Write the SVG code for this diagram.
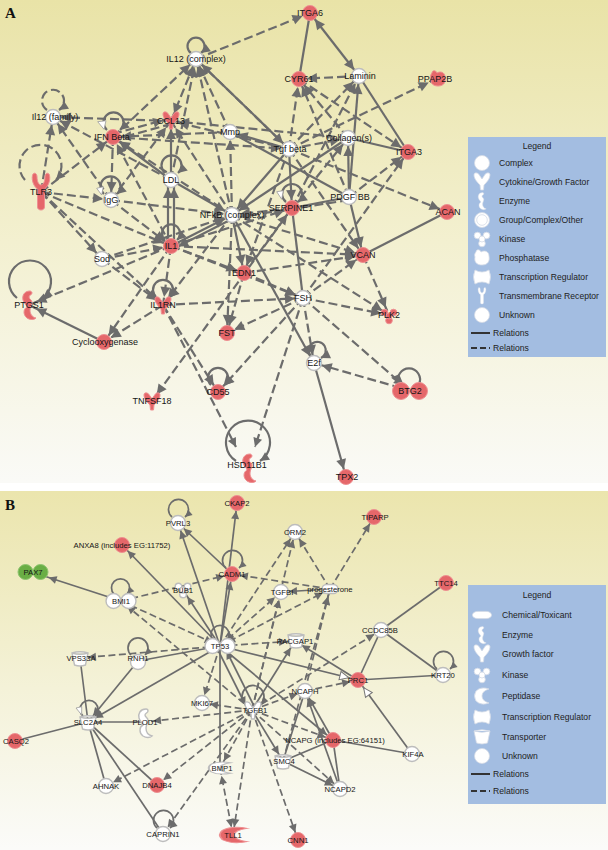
<svg xmlns="http://www.w3.org/2000/svg" width="608" height="850" viewBox="0 0 608 850">
<defs>
<style>
.s{fill:none;stroke:#6c6c6c;stroke-width:2.2}
.d{fill:none;stroke:#6c6c6c;stroke-width:2.2;stroke-dasharray:9 4}
.sb{fill:none;stroke:#6c6c6c;stroke-width:1.7}
.db{fill:none;stroke:#6c6c6c;stroke-width:1.7;stroke-dasharray:7 3.5}
.r{fill:#e5676a;stroke:#ee9092;stroke-width:1}
.w{fill:#ffffff;stroke:#bdbdbd;stroke-width:1.4}
.g{fill:#6aae45;stroke:#8ec46f;stroke-width:1}
.lw{fill:#ffffff;stroke:#d4dbe6;stroke-width:0.8}
.tri{fill:#ffffff;stroke:#9a9a9a;stroke-width:0.8}
.leg{fill:#a3bde1}
text{font-family:"Liberation Sans",Arial,sans-serif;fill:#151515}
.ta{font-size:9px;text-anchor:middle}
.tb{font-size:7.7px;text-anchor:middle}
.tl{font-size:8.6px;fill:#222}
.th{font-size:8.6px;fill:#222;text-anchor:middle}
.pl{font-family:"Liberation Serif","Times New Roman",serif;font-weight:bold;font-size:15px;fill:#111}
</style>
<linearGradient id="bgA" x1="0" y1="0" x2="0" y2="1">
<stop offset="0" stop-color="#e9e3a7"/><stop offset="0.5" stop-color="#f3f0d0"/><stop offset="1" stop-color="#fafaf7"/>
</linearGradient>
<linearGradient id="bgB" x1="0" y1="0" x2="0" y2="1">
<stop offset="0" stop-color="#ebe5ad"/><stop offset="0.55" stop-color="#f4f2d8"/><stop offset="1" stop-color="#fbfbf9"/>
</linearGradient>
<marker id="a" viewBox="0 0 10 10" refX="18" refY="5" markerWidth="10" markerHeight="10" markerUnits="userSpaceOnUse" orient="auto" overflow="visible"><path d="M0,0L10,5L0,10z" fill="#6c6c6c"/></marker>
<marker id="as" viewBox="0 0 10 10" refX="18" refY="5" markerWidth="10" markerHeight="10" markerUnits="userSpaceOnUse" orient="auto-start-reverse" overflow="visible"><path d="M0,0L10,5L0,10z" fill="#6c6c6c"/></marker>
<marker id="l" viewBox="0 0 10 10" refX="10" refY="5" markerWidth="9" markerHeight="9" markerUnits="userSpaceOnUse" orient="auto" overflow="visible"><path d="M0,0L10,5L0,10z" fill="#6c6c6c"/></marker>
<marker id="b" viewBox="0 0 10 10" refX="20" refY="5" markerWidth="8" markerHeight="8" markerUnits="userSpaceOnUse" orient="auto" overflow="visible"><path d="M0,0L10,5L0,10z" fill="#6c6c6c"/></marker>
<marker id="bs" viewBox="0 0 10 10" refX="20" refY="5" markerWidth="8" markerHeight="8" markerUnits="userSpaceOnUse" orient="auto-start-reverse" overflow="visible"><path d="M0,0L10,5L0,10z" fill="#6c6c6c"/></marker>
<marker id="bl" viewBox="0 0 10 10" refX="10" refY="5" markerWidth="7" markerHeight="7" markerUnits="userSpaceOnUse" orient="auto" overflow="visible"><path d="M0,0L10,5L0,10z" fill="#6c6c6c"/></marker>
<marker id="o" viewBox="0 0 10 10" refX="19" refY="5" markerWidth="10" markerHeight="10" markerUnits="userSpaceOnUse" orient="auto" overflow="visible"><path d="M0.5,0.8L9.5,5L0.5,9.2z" fill="#ffffff" stroke="#777" stroke-width="1"/></marker>
<circle id="c" r="7.5"/>
<g id="dcA"><circle cx="-9" r="8.5"/><circle cx="9" r="8.5"/></g>
<g id="dcB"><circle cx="-7.5" r="7.5"/><circle cx="7.5" r="7.5"/></g>
<path id="cy" d="M-8,-7 C-8,-10 -4,-10 -2,-6 L0,-3 L2,-6 C4,-10 8,-10 8,-7 C8,-3 4,1 2,3 L1.5,8 L-1.5,8 L-2,3 C-4,1 -8,-3 -8,-7 Z"/>
<path id="tm" d="M-8,-18 C-6,-20 -4,-18 -4,-15 C-4,-10 -2,-7 0,-7 C2,-7 4,-10 4,-15 C4,-18 6,-20 8,-18 C10,-14 8,-6 3.5,-3 L3.5,15 C3.5,19 -3.5,19 -3.5,15 L-3.5,-3 C-8,-6 -10,-14 -8,-18 Z"/>
<path id="en" d="M1,-14 C-5,-14 -7,-9 -6,-5 C-5,-1 -2,0 -2,2 C-6,4 -6,10 -2,13 C1,15 5,15 7,13 C3,12 1,9 1,5 C1,2 3,0 3,-3 C3,-5 0,-6 0,-8 C0,-10 3,-10 3,-12 C3,-13 2,-14 1,-14 Z"/>
<g id="ki"><circle cx="-4.5" cy="-3.5" r="3.3"/><circle cx="4.5" cy="-3.5" r="3.3"/><circle cx="0" cy="4.5" r="3.3"/><circle r="3"/></g>
<path id="ph" d="M-6,-6 C-6,-9 -2,-9 -1,-6 C2,-8 7,-7 7,-2 C8,3 6,7 0,7 C-6,7 -8,3 -7,-1 C-8,-3 -7,-5 -6,-6 Z"/>
<path id="tr" d="M-7,-7 Q0,-3 7,-7 Q10,0 7,7 Q0,3 -7,7 Q-10,0 -7,-7 Z"/>
<path id="tp" d="M-8,-6 Q0,-8.5 8,-6 L5.5,6 Q0,8 -5.5,6 Z M-8,-6 Q0,-3.5 8,-6"/>
<rect id="ch" x="-8" y="-4.5" width="16" height="9" rx="4.5"/>
<path id="pe" d="M7,-7 Q-1,-10 -6,-5 Q-9,0 -6,5 Q-1,10 7,7 Q0,5 0,0 Q0,-5 7,-7 Z"/>
</defs>

<rect x="0" y="0" width="608" height="850" fill="#ffffff"/>
<rect x="0" y="0" width="608" height="483" fill="url(#bgA)"/>
<rect x="0" y="491" width="608" height="359" fill="url(#bgB)"/>
<text class="pl" x="5" y="18">A</text>
<text class="pl" x="5" y="510">B</text>

<g id="connectors-a">
<line class="s" x1="299" y1="79" x2="310" y2="13"/>
<line class="s" x1="359" y1="76" x2="310" y2="13" marker-end="url(#a)" marker-start="url(#as)"/>
<line class="s" x1="359" y1="76" x2="408" y2="152"/>
<line class="s" x1="348" y1="138" x2="408" y2="152"/>
<line class="s" x1="196" y1="59" x2="289" y2="149" marker-end="url(#a)"/>
<line class="s" x1="289" y1="149" x2="230" y2="132" marker-end="url(#a)"/>
<line class="s" x1="230" y1="132" x2="349" y2="197"/>
<line class="s" x1="349" y1="197" x2="359" y2="76" marker-end="url(#a)"/>
<line class="s" x1="349" y1="197" x2="348" y2="138" marker-end="url(#a)"/>
<line class="s" x1="289" y1="149" x2="292" y2="208" marker-end="url(#a)"/>
<line class="s" x1="292" y1="208" x2="303" y2="298"/>
<line class="s" x1="349" y1="197" x2="292" y2="208"/>
<line class="s" x1="349" y1="197" x2="363" y2="255" marker-end="url(#a)"/>
<line class="s" x1="168" y1="246" x2="168" y2="180" marker-end="url(#a)"/>
<line class="s" x1="174" y1="246" x2="174" y2="180" marker-end="url(#a)"/>
<line class="s" x1="171" y1="180" x2="171" y2="121" marker-end="url(#a)"/>
<line class="s" x1="171" y1="180" x2="113" y2="137" marker-end="url(#a)"/>
<line class="s" x1="171" y1="180" x2="232" y2="215" marker-end="url(#a)"/>
<line class="s" x1="171" y1="246" x2="232" y2="215" marker-end="url(#a)"/>
<line class="s" x1="232" y1="219" x2="171" y2="250" marker-end="url(#a)"/>
<line class="s" x1="232" y1="215" x2="244" y2="273" marker-end="url(#a)"/>
<line class="s" x1="232" y1="215" x2="314" y2="363" marker-end="url(#a)"/>
<line class="s" x1="447" y1="212" x2="363" y2="255"/>
<line class="s" x1="104" y1="342" x2="29" y2="305" marker-end="url(#a)"/>
<line class="s" x1="314" y1="363" x2="346" y2="477" marker-end="url(#a)"/>
<line class="s" x1="348" y1="138" x2="232" y2="215" marker-end="url(#a)"/>
<line class="s" x1="289" y1="149" x2="232" y2="215" marker-end="url(#a)"/>
<line class="d" x1="196" y1="59" x2="310" y2="13" marker-end="url(#a)"/>
<line class="d" x1="113" y1="137" x2="196" y2="59" marker-end="url(#a)"/>
<line class="d" x1="171" y1="121" x2="196" y2="59" marker-end="url(#a)" marker-start="url(#as)"/>
<line class="d" x1="171" y1="180" x2="196" y2="59" marker-end="url(#a)"/>
<line class="d" x1="232" y1="215" x2="196" y2="59" marker-end="url(#a)"/>
<line class="d" x1="289" y1="149" x2="196" y2="59" marker-end="url(#a)"/>
<line class="d" x1="230" y1="132" x2="196" y2="59" marker-end="url(#a)"/>
<line class="d" x1="41" y1="192" x2="53" y2="117" marker-end="url(#a)"/>
<line class="d" x1="41" y1="192" x2="113" y2="137" marker-end="url(#a)"/>
<line class="d" x1="41" y1="192" x2="111" y2="200" marker-end="url(#a)"/>
<line class="d" x1="41" y1="192" x2="171" y2="246" marker-end="url(#a)"/>
<line class="d" x1="41" y1="192" x2="102" y2="259" marker-end="url(#a)"/>
<line class="d" x1="41" y1="192" x2="163" y2="305" marker-end="url(#a)"/>
<line class="d" x1="171" y1="121" x2="53" y2="117" marker-end="url(#a)"/>
<line class="d" x1="111" y1="200" x2="53" y2="117" marker-end="url(#a)"/>
<line class="d" x1="171" y1="180" x2="53" y2="117" marker-end="url(#a)"/>
<line class="d" x1="113" y1="137" x2="111" y2="200" marker-end="url(#a)"/>
<line class="d" x1="113" y1="134" x2="171" y2="118" marker-end="url(#a)"/>
<line class="d" x1="113" y1="140" x2="171" y2="124"/>
<line class="d" x1="230" y1="132" x2="113" y2="137" marker-end="url(#a)"/>
<line class="d" x1="113" y1="137" x2="289" y2="149" marker-end="url(#a)"/>
<line class="d" x1="232" y1="215" x2="113" y2="137" marker-end="url(#a)"/>
<line class="d" x1="171" y1="246" x2="113" y2="137" marker-end="url(#a)"/>
<line class="d" x1="289" y1="149" x2="171" y2="121" marker-end="url(#a)"/>
<line class="d" x1="232" y1="215" x2="171" y2="121" marker-end="url(#a)"/>
<line class="d" x1="111" y1="200" x2="171" y2="121" marker-end="url(#a)"/>
<line class="d" x1="348" y1="138" x2="171" y2="121" marker-end="url(#a)"/>
<line class="d" x1="289" y1="149" x2="299" y2="79" marker-end="url(#a)"/>
<line class="d" x1="289" y1="149" x2="359" y2="76" marker-end="url(#a)"/>
<line class="d" x1="289" y1="149" x2="436" y2="79" marker-end="url(#a)"/>
<line class="d" x1="359" y1="76" x2="299" y2="79" marker-end="url(#a)"/>
<line class="d" x1="299" y1="79" x2="408" y2="152" marker-end="url(#a)"/>
<line class="d" x1="348" y1="138" x2="299" y2="79" marker-end="url(#a)"/>
<line class="d" x1="349" y1="197" x2="299" y2="79" marker-end="url(#a)"/>
<line class="d" x1="349" y1="197" x2="408" y2="152" marker-end="url(#a)"/>
<line class="d" x1="289" y1="149" x2="447" y2="212" marker-end="url(#a)"/>
<line class="d" x1="289" y1="149" x2="348" y2="138" marker-end="url(#a)"/>
<line class="d" x1="292" y1="208" x2="359" y2="76" marker-end="url(#a)"/>
<line class="d" x1="292" y1="208" x2="348" y2="138" marker-end="url(#a)"/>
<line class="d" x1="289" y1="149" x2="363" y2="255" marker-end="url(#a)"/>
<line class="d" x1="232" y1="215" x2="230" y2="132" marker-end="url(#a)"/>
<line class="d" x1="292" y1="208" x2="232" y2="215" marker-end="url(#a)"/>
<line class="d" x1="349" y1="200" x2="232" y2="218" marker-end="url(#a)"/>
<line class="d" x1="111" y1="200" x2="232" y2="215" marker-end="url(#a)"/>
<line class="d" x1="111" y1="200" x2="171" y2="246" marker-end="url(#a)"/>
<line class="d" x1="102" y1="259" x2="232" y2="215" marker-end="url(#a)"/>
<line class="d" x1="102" y1="259" x2="171" y2="246" marker-end="url(#a)"/>
<line class="d" x1="102" y1="259" x2="163" y2="305" marker-end="url(#a)"/>
<line class="d" x1="171" y1="246" x2="29" y2="305" marker-end="url(#a)"/>
<line class="d" x1="171" y1="246" x2="104" y2="342" marker-end="url(#a)"/>
<line class="d" x1="163" y1="305" x2="104" y2="342" marker-end="url(#a)"/>
<line class="d" x1="171" y1="246" x2="163" y2="305" marker-end="url(#a)"/>
<line class="d" x1="232" y1="215" x2="163" y2="305" marker-end="url(#a)"/>
<line class="d" x1="171" y1="246" x2="292" y2="208" marker-end="url(#a)"/>
<line class="d" x1="171" y1="246" x2="363" y2="255" marker-end="url(#a)"/>
<line class="d" x1="171" y1="246" x2="303" y2="298" marker-end="url(#a)"/>
<line class="d" x1="171" y1="246" x2="244" y2="273" marker-end="url(#a)"/>
<line class="d" x1="232" y1="215" x2="227" y2="333" marker-end="url(#a)"/>
<line class="d" x1="244" y1="273" x2="227" y2="333" marker-end="url(#a)"/>
<line class="d" x1="303" y1="298" x2="227" y2="333" marker-end="url(#a)"/>
<line class="d" x1="303" y1="298" x2="218" y2="392" marker-end="url(#a)"/>
<line class="d" x1="163" y1="305" x2="218" y2="392" marker-end="url(#a)"/>
<line class="d" x1="303" y1="298" x2="255" y2="447" marker-end="url(#l)"/>
<line class="d" x1="163" y1="305" x2="236" y2="447" marker-end="url(#l)"/>
<line class="d" x1="292" y1="208" x2="152" y2="401" marker-end="url(#a)"/>
<line class="d" x1="303" y1="298" x2="389" y2="315" marker-end="url(#a)"/>
<line class="d" x1="232" y1="215" x2="389" y2="315" marker-end="url(#a)"/>
<line class="d" x1="363" y1="255" x2="389" y2="315" marker-end="url(#a)"/>
<line class="d" x1="303" y1="298" x2="314" y2="363" marker-end="url(#a)"/>
<line class="d" x1="303" y1="298" x2="410" y2="391" marker-end="url(#a)"/>
<line class="d" x1="401" y1="388" x2="314" y2="363" marker-end="url(#a)"/>
<line class="d" x1="303" y1="298" x2="363" y2="255" marker-end="url(#a)"/>
<line class="d" x1="244" y1="273" x2="363" y2="255" marker-end="url(#a)"/>
<line class="d" x1="232" y1="215" x2="363" y2="255" marker-end="url(#a)"/>
<line class="d" x1="244" y1="273" x2="303" y2="298" marker-end="url(#a)"/>
<line class="d" x1="244" y1="273" x2="292" y2="208" marker-end="url(#a)"/>
<line class="d" x1="163" y1="305" x2="303" y2="298" marker-end="url(#a)"/>
<line class="d" x1="303" y1="298" x2="408" y2="152" marker-end="url(#a)"/>
<line class="d" x1="289" y1="149" x2="244" y2="273" marker-end="url(#a)"/>
<path class="s" d="M191,53 A8.5,8.5 0 1 1 201,53" marker-end="url(#l)"/>
<path class="d" d="M47,110 A11,11 0 1 1 59,110" marker-end="url(#l)"/>
<path class="s" d="M107,130 A10,10 0 1 1 120,130" marker-end="url(#l)"/>
<path class="s" d="M165,173 A10,10 0 1 1 178,173" marker-end="url(#l)"/>
<path class="s" d="M104,194 A10,10 0 1 1 117,194" marker-end="url(#l)"/>
<path class="s" d="M165,240 A9,9 0 1 1 177,240" marker-end="url(#l)"/>
<path class="s" d="M286,202 A10,10 0 1 1 298,202" marker-end="url(#l)"/>
<path class="s" d="M156,297 A10,10 0 1 1 170,297" marker-end="url(#l)"/>
<path class="s" d="M211,385 A10,10 0 1 1 225,385" marker-end="url(#l)"/>
<path class="s" d="M311,356 A8.5,8.5 0 1 1 321,358" marker-end="url(#l)"/>
<path class="s" d="M419,384 A11,11 0 1 0 399,384" marker-end="url(#l)"/>
<path class="s" d="M17,298 A21,21 0 1 1 43,298" marker-end="url(#l)"/>
<path class="d" d="M25,180 A21,21 0 1 1 56,180" marker-end="url(#l)"/>
<path class="s" d="M236,461 A22,22 0 1 1 260,461" marker-end="url(#l)"/>
<polygon class="tri" points="97.7,121.7 106,120.7 104,129.3"/>
<polygon class="tri" points="96.7,188.3 103.3,186.7 101.7,195"/>
<polygon class="tri" points="276.7,191.7 283.3,190.7 281.7,199.3"/>
</g>

<g id="n-itga6"><use href="#c" x="310" y="13" class="r"/><text class="ta" x="310" y="16">ITGA6</text></g>
<g id="n-il12c"><use href="#c" x="196" y="59" class="w"/><text class="ta" x="196" y="62">IL12 (complex)</text></g>
<g id="n-cyr61"><use href="#c" x="299" y="79" class="r"/><text class="ta" x="299" y="82">CYR61</text></g>
<g id="n-laminin"><use href="#c" x="359" y="76" class="w"/><text class="ta" x="360" y="79">Laminin</text></g>
<g id="n-ppap2b"><use href="#ph" x="438" y="79" class="r"/><text class="ta" x="435" y="82">PPAP2B</text></g>
<g id="n-il12f"><use href="#c" x="53" y="117" class="w"/><text class="ta" x="55" y="120">Il12 (family)</text></g>
<g id="n-ifnb"><use href="#c" x="113" y="137" class="r"/><text class="ta" x="112" y="140">IFN Beta</text></g>
<g id="n-ccl13"><use href="#cy" x="171" y="121" class="r"/><text class="ta" x="171" y="124">CCL13</text></g>
<g id="n-mmp"><use href="#c" x="230" y="132" class="w"/><text class="ta" x="230" y="135">Mmp</text></g>
<g id="n-tgfb"><use href="#c" x="289" y="149" class="w"/><text class="ta" x="290" y="152">Tgf beta</text></g>
<g id="n-coll"><use href="#c" x="348" y="138" class="w"/><text class="ta" x="349" y="141">Collagen(s)</text></g>
<g id="n-itga3"><use href="#c" x="408" y="152" class="r"/><text class="ta" x="409" y="155">ITGA3</text></g>
<g id="n-ldl"><use href="#c" x="171" y="180" class="w"/><text class="ta" x="171" y="183">LDL</text></g>
<g id="n-igg"><use href="#c" x="111" y="200" class="w"/><text class="ta" x="111" y="203">IgG</text></g>
<g id="n-tlr3"><use href="#tm" x="41" y="192" class="r"/><text class="ta" x="41" y="195">TLR3</text></g>
<g id="n-nfkb"><use href="#c" x="232" y="215" class="w"/><text class="ta" x="232" y="218">NFkB (complex)</text></g>
<g id="n-serpine1"><use href="#c" x="292" y="208" class="r"/><text class="ta" x="291" y="211">SERPINE1</text></g>
<g id="n-pdgf"><use href="#c" x="349" y="197" class="w"/><text class="ta" x="350" y="200">PDGF BB</text></g>
<g id="n-acan"><use href="#c" x="447" y="212" class="r"/><text class="ta" x="448" y="215">ACAN</text></g>
<g id="n-il1"><use href="#c" x="171" y="246" class="r"/><text class="ta" x="171" y="249">IL1</text></g>
<g id="n-sod"><use href="#c" x="102" y="259" class="w"/><text class="ta" x="102" y="262">Sod</text></g>
<g id="n-edn1"><use href="#c" x="244" y="273" class="r"/><text class="ta" x="244" y="276">EDN1</text></g>
<g id="n-vcan"><use href="#c" x="363" y="255" class="r"/><text class="ta" x="363" y="258">VCAN</text></g>
<g id="n-fsh"><use href="#c" x="303" y="298" class="w"/><text class="ta" x="303" y="301">FSH</text></g>
<g id="n-il1rn"><use href="#cy" x="163" y="306" class="r"/><text class="ta" x="163" y="308">IL1RN</text></g>
<g id="n-ptgs1"><use href="#en" x="29" y="305" class="r"/><text class="ta" x="29" y="308">PTGS1</text></g>
<g id="n-plk2"><use href="#ki" x="389" y="316" class="r"/><text class="ta" x="389" y="318">PLK2</text></g>
<g id="n-fst"><use href="#c" x="227" y="333" class="r"/><text class="ta" x="227" y="336">FST</text></g>
<g id="n-cyclo"><use href="#c" x="104" y="342" class="r"/><text class="ta" x="105" y="345">Cyclooxygenase</text></g>
<g id="n-e2f"><use href="#c" x="314" y="363" class="w"/><text class="ta" x="314" y="366">E2f</text></g>
<g id="n-cd55"><use href="#c" x="218" y="392" class="r"/><text class="ta" x="218" y="395">CD55</text></g>
<g id="n-btg2"><use href="#dcA" x="410" y="391" class="r"/><text class="ta" x="410" y="394">BTG2</text></g>
<g id="n-tnfsf18"><use href="#cy" x="152" y="402" class="r"/><text class="ta" x="152" y="404">TNFSF18</text></g>
<g id="n-hsd11b1"><use href="#en" x="249" y="468" class="r"/><text class="ta" x="247" y="468">HSD11B1</text></g>
<g id="n-tpx2"><use href="#c" x="346" y="477" class="r"/><text class="ta" x="347" y="480">TPX2</text></g>

<g id="legend-a">
<rect class="leg" x="468" y="137" width="138" height="220"/>
<text class="th" x="537" y="149">Legend</text>
<use href="#c" x="482" y="163" class="lw"/><text class="tl" x="499" y="166">Complex</text>
<use href="#cy" x="482" y="182" class="lw"/><text class="tl" x="499" y="185">Cytokine/Growth Factor</text>
<g transform="translate(482,201) scale(0.6)"><use href="#en" class="lw"/></g><text class="tl" x="499" y="204">Enzyme</text>
<circle cx="482" cy="220" r="7.5" class="lw"/><circle cx="482" cy="220" r="5.3" class="lw"/><text class="tl" x="499" y="223">Group/Complex/Other</text>
<use href="#ki" x="482" y="239" class="lw"/><text class="tl" x="499" y="242">Kinase</text>
<use href="#ph" x="482" y="258" class="lw"/><text class="tl" x="499" y="261">Phosphatase</text>
<use href="#tr" x="482" y="277" class="lw"/><text class="tl" x="499" y="280">Transcription Regulator</text>
<g transform="translate(482,296) scale(0.45)"><use href="#tm" class="lw"/></g><text class="tl" x="499" y="299">Transmembrane Receptor</text>
<use href="#c" x="482" y="315" class="lw"/><text class="tl" x="499" y="318">Unknown</text>
<line x1="471" y1="333" x2="490" y2="333" stroke="#333" stroke-width="2"/><text class="tl" x="493" y="336">Relations</text>
<line x1="471" y1="348" x2="490" y2="348" stroke="#333" stroke-width="2" stroke-dasharray="6 3"/><text class="tl" x="493" y="351">Relations</text>
</g>

<g id="connectors-b">
<line class="sb" x1="220" y1="646" x2="237" y2="503" marker-end="url(#b)"/>
<line class="sb" x1="220" y1="646" x2="178" y2="523" marker-end="url(#b)"/>
<line class="sb" x1="220" y1="646" x2="122" y2="545" marker-end="url(#b)"/>
<line class="sb" x1="121" y1="601" x2="41" y2="575" marker-end="url(#b)"/>
<line class="sb" x1="232" y1="574" x2="178" y2="523" marker-end="url(#b)"/>
<line class="sb" x1="220" y1="646" x2="183" y2="590" marker-end="url(#b)"/>
<line class="sb" x1="220" y1="646" x2="232" y2="574" marker-end="url(#b)"/>
<line class="sb" x1="330" y1="589" x2="281" y2="592" marker-end="url(#b)"/>
<line class="sb" x1="446" y1="583" x2="381" y2="630"/>
<line class="sb" x1="381" y1="630" x2="443" y2="675"/>
<line class="sb" x1="381" y1="630" x2="358" y2="680"/>
<line class="sb" x1="358" y1="680" x2="295" y2="641" marker-end="url(#b)"/>
<line class="sb" x1="220" y1="646" x2="358" y2="680" marker-end="url(#o)"/>
<line class="sb" x1="443" y1="675" x2="358" y2="680"/>
<line class="sb" x1="412" y1="754" x2="358" y2="680" marker-end="url(#o)"/>
<line class="sb" x1="220" y1="646" x2="138" y2="661"/>
<line class="sb" x1="138" y1="661" x2="88" y2="722" marker-end="url(#b)"/>
<line class="sb" x1="220" y1="646" x2="88" y2="722" marker-end="url(#b)"/>
<line class="sb" x1="80" y1="658" x2="88" y2="722"/>
<line class="sb" x1="145" y1="722" x2="88" y2="722"/>
<line class="sb" x1="15" y1="741" x2="88" y2="722"/>
<line class="sb" x1="88" y1="722" x2="106" y2="786"/>
<line class="sb" x1="88" y1="722" x2="157" y2="785"/>
<line class="sb" x1="88" y1="722" x2="163" y2="834"/>
<line class="sb" x1="217" y1="648" x2="249" y2="712" marker-end="url(#b)"/>
<line class="sb" x1="255" y1="708" x2="223" y2="644" marker-end="url(#b)"/>
<line class="sb" x1="220" y1="646" x2="220" y2="768"/>
<line class="sb" x1="252" y1="710" x2="283" y2="761" marker-end="url(#b)"/>
<line class="sb" x1="252" y1="710" x2="295" y2="641" marker-end="url(#b)"/>
<line class="sb" x1="220" y1="646" x2="333" y2="740" marker-end="url(#b)"/>
<line class="sb" x1="283" y1="761" x2="305" y2="691"/>
<line class="sb" x1="283" y1="761" x2="333" y2="740"/>
<line class="sb" x1="283" y1="761" x2="340" y2="789" marker-end="url(#b)"/>
<line class="sb" x1="340" y1="789" x2="305" y2="691" marker-end="url(#b)"/>
<line class="sb" x1="333" y1="740" x2="305" y2="691" marker-end="url(#b)"/>
<line class="sb" x1="333" y1="740" x2="340" y2="789"/>
<line class="sb" x1="333" y1="740" x2="412" y2="754"/>
<line class="db" x1="121" y1="601" x2="220" y2="646" marker-end="url(#b)"/>
<line class="db" x1="252" y1="710" x2="121" y2="601" marker-end="url(#b)"/>
<line class="db" x1="121" y1="601" x2="232" y2="574" marker-end="url(#b)"/>
<line class="db" x1="330" y1="589" x2="232" y2="574" marker-end="url(#b)"/>
<line class="db" x1="330" y1="589" x2="295" y2="532" marker-end="url(#b)"/>
<line class="db" x1="330" y1="589" x2="374" y2="517" marker-end="url(#b)"/>
<line class="db" x1="220" y1="646" x2="295" y2="532" marker-end="url(#b)"/>
<line class="db" x1="220" y1="646" x2="281" y2="592" marker-end="url(#b)"/>
<line class="db" x1="252" y1="710" x2="281" y2="592" marker-end="url(#b)"/>
<line class="db" x1="220" y1="646" x2="330" y2="589" marker-end="url(#b)" marker-start="url(#bs)"/>
<line class="db" x1="305" y1="691" x2="330" y2="589" marker-end="url(#b)"/>
<line class="db" x1="283" y1="761" x2="330" y2="589" marker-end="url(#b)"/>
<line class="db" x1="220" y1="646" x2="295" y2="641" marker-end="url(#b)"/>
<line class="db" x1="252" y1="710" x2="381" y2="630" marker-end="url(#b)"/>
<line class="db" x1="305" y1="691" x2="358" y2="680" marker-end="url(#b)"/>
<line class="db" x1="220" y1="646" x2="80" y2="658" marker-end="url(#b)"/>
<line class="db" x1="220" y1="646" x2="202" y2="703" marker-end="url(#b)"/>
<line class="db" x1="252" y1="710" x2="202" y2="703" marker-end="url(#b)"/>
<line class="db" x1="252" y1="710" x2="145" y2="722" marker-end="url(#b)"/>
<line class="db" x1="252" y1="710" x2="106" y2="786" marker-end="url(#b)"/>
<line class="db" x1="252" y1="710" x2="157" y2="785" marker-end="url(#b)"/>
<line class="db" x1="252" y1="710" x2="163" y2="834" marker-end="url(#b)"/>
<line class="db" x1="252" y1="710" x2="220" y2="768" marker-end="url(#b)"/>
<line class="db" x1="220" y1="768" x2="233" y2="835" marker-end="url(#b)" marker-start="url(#bs)"/>
<line class="db" x1="252" y1="710" x2="233" y2="835" marker-end="url(#b)"/>
<line class="db" x1="252" y1="710" x2="298" y2="840" marker-end="url(#b)"/>
<line class="db" x1="252" y1="710" x2="305" y2="691" marker-end="url(#b)"/>
<line class="db" x1="252" y1="710" x2="333" y2="740" marker-end="url(#b)"/>
<line class="db" x1="252" y1="710" x2="340" y2="789" marker-end="url(#b)"/>
<line class="db" x1="252" y1="710" x2="295" y2="532" marker-end="url(#b)"/>
<path class="sb" d="M172,517 A10,10 0 1 1 185,517" marker-end="url(#bl)"/>
<path class="sb" d="M226,568 A10,10 0 1 1 239,568" marker-end="url(#bl)"/>
<path class="sb" d="M114,594 A9,9 0 1 1 127,594" marker-end="url(#bl)"/>
<path class="sb" d="M213,640 A9,9 0 1 1 227,640" marker-end="url(#bl)"/>
<path class="sb" d="M131,655 A10,10 0 1 1 145,655" marker-end="url(#bl)"/>
<path class="sb" d="M83,716 A9,9 0 1 1 95,716" marker-end="url(#bl)"/>
<path class="sb" d="M245,704 A11,11 0 1 1 261,704" marker-end="url(#bl)"/>
<path class="sb" d="M437,669 A10,10 0 1 1 450,669" marker-end="url(#bl)"/>
<path class="sb" d="M157,828 A10,10 0 1 1 170,828" marker-end="url(#bl)"/>
<polygon class="tri" points="76,708 81.7,706.7 81.7,715"/>
</g>

<g id="n-ckap2"><use href="#c" x="237" y="503" class="r"/><text class="tb" x="237" y="506">CKAP2</text></g>
<g id="n-tiparp"><use href="#c" x="374" y="517" class="r"/><text class="tb" x="375" y="520">TIPARP</text></g>
<g id="n-pvrl3"><use href="#c" x="178" y="523" class="w"/><text class="tb" x="178" y="526">PVRL3</text></g>
<g id="n-orm2"><use href="#c" x="295" y="532" class="w"/><text class="tb" x="295" y="535">ORM2</text></g>
<g id="n-anxa8"><use href="#c" x="122" y="545" class="r"/><text class="tb" x="122" y="548">ANXA8 (includes EG:11752)</text></g>
<g id="n-cadm1"><use href="#c" x="232" y="574" class="r"/><text class="tb" x="232" y="577">CADM1</text></g>
<g id="n-pax7"><use href="#dcB" x="33" y="572" class="g"/><text class="tb" x="33" y="575">PAX7</text></g>
<g id="n-ttc14"><use href="#c" x="446" y="583" class="r"/><text class="tb" x="446" y="586">TTC14</text></g>
<g id="n-bmi1"><use href="#dcB" x="121" y="601" class="w"/><text class="tb" x="121" y="604">BMI1</text></g>
<g id="n-bub1"><use href="#ki" x="183" y="590" class="w"/><text class="tb" x="183" y="593">BUB1</text></g>
<g id="n-tgfbi"><use href="#c" x="281" y="592" class="w"/><text class="tb" x="282" y="595">TGFBI</text></g>
<g id="n-prog"><use href="#ch" x="330" y="589" class="w"/><text class="tb" x="330" y="592">progesterone</text></g>
<g id="n-ccdc85b"><use href="#c" x="381" y="630" class="w"/><text class="tb" x="380" y="633">CCDC85B</text></g>
<g id="n-tp53"><use href="#dcB" x="220" y="646" class="w"/><text class="tb" x="220" y="649">TP53</text></g>
<g id="n-racgap1"><use href="#tp" x="296" y="641" class="w"/><text class="tb" x="295" y="644">RACGAP1</text></g>
<g id="n-vps33a"><use href="#tp" x="80" y="659" class="w"/><text class="tb" x="81" y="661">VPS33A</text></g>
<g id="n-rnh1"><use href="#c" x="138" y="662" class="w"/><text class="tb" x="138" y="661">RNH1</text></g>
<g id="n-prc1"><use href="#c" x="358" y="680" class="r"/><text class="tb" x="358" y="683">PRC1</text></g>
<g id="n-krt20"><use href="#c" x="443" y="675" class="w"/><text class="tb" x="443" y="678">KRT20</text></g>
<g id="n-ncaph"><use href="#c" x="305" y="691" class="w"/><text class="tb" x="305" y="694">NCAPH</text></g>
<g id="n-mki67"><use href="#c" x="202" y="703" class="w"/><text class="tb" x="202" y="706">MKI67</text></g>
<g id="n-slc2a4"><use href="#tp" x="88" y="723" class="w"/><text class="tb" x="88" y="725">SLC2A4</text></g>
<g id="n-plod1"><use href="#en" x="145" y="723" class="w"/><text class="tb" x="145" y="725">PLOD1</text></g>
<g id="n-tgfb1"><use href="#cy" x="253" y="711" class="w"/><text class="tb" x="255" y="713">TGFB1</text></g>
<g id="n-casq2"><use href="#c" x="15" y="741" class="r"/><text class="tb" x="16" y="744">CASQ2</text></g>
<g id="n-ncapg"><use href="#c" x="333" y="740" class="r"/><text class="tb" x="335" y="743">NCAPG (includes EG:64151)</text></g>
<g id="n-kif4a"><use href="#c" x="412" y="754" class="w"/><text class="tb" x="413" y="757">KIF4A</text></g>
<g id="n-smc4"><use href="#tp" x="283" y="762" class="w"/><text class="tb" x="284" y="764">SMC4</text></g>
<g id="n-bmp1"><g transform="translate(220,768) scale(1.5,0.75)"><use href="#pe" class="w"/></g><text class="tb" x="222" y="771">BMP1</text></g>
<g id="n-ahnak"><use href="#c" x="106" y="786" class="w"/><text class="tb" x="106" y="789">AHNAK</text></g>
<g id="n-dnajb4"><use href="#c" x="157" y="785" class="r"/><text class="tb" x="157" y="788">DNAJB4</text></g>
<g id="n-ncapd2"><use href="#c" x="340" y="789" class="w"/><text class="tb" x="340" y="792">NCAPD2</text></g>
<g id="n-caprin1"><use href="#c" x="163" y="834" class="w"/><text class="tb" x="163" y="837">CAPRIN1</text></g>
<g id="n-tll1"><g transform="translate(234,835) scale(1.9,0.95)"><use href="#pe" class="r"/></g><text class="tb" x="233" y="838">TLL1</text></g>
<g id="n-cnn1"><use href="#c" x="298" y="840" class="r"/><text class="tb" x="298" y="843">CNN1</text></g>

<g id="legend-b">
<rect class="leg" x="468" y="585" width="138" height="219"/>
<text class="th" x="537" y="598">Legend</text>
<g transform="translate(482,615) scale(1.2,0.8)"><use href="#ch" class="lw"/></g><text class="tl" x="502" y="618">Chemical/Toxicant</text>
<g transform="translate(482,635) scale(0.6)"><use href="#en" class="lw"/></g><text class="tl" x="502" y="638">Enzyme</text>
<use href="#cy" x="482" y="654" class="lw"/><text class="tl" x="502" y="657">Growth factor</text>
<use href="#ki" x="482" y="675" class="lw"/><text class="tl" x="502" y="678">Kinase</text>
<use href="#pe" x="482" y="696" class="lw"/><text class="tl" x="502" y="699">Peptidase</text>
<use href="#tr" x="482" y="717" class="lw"/><text class="tl" x="502" y="720">Transcription Regulator</text>
<use href="#tp" x="482" y="737" class="lw"/><text class="tl" x="502" y="740">Transporter</text>
<use href="#c" x="482" y="756" class="lw"/><text class="tl" x="502" y="759">Unknown</text>
<line x1="471" y1="774" x2="490" y2="774" stroke="#333" stroke-width="2"/><text class="tl" x="493" y="777">Relations</text>
<line x1="471" y1="791" x2="490" y2="791" stroke="#333" stroke-width="2" stroke-dasharray="6 3"/><text class="tl" x="493" y="794">Relations</text>
</g>
</svg>
